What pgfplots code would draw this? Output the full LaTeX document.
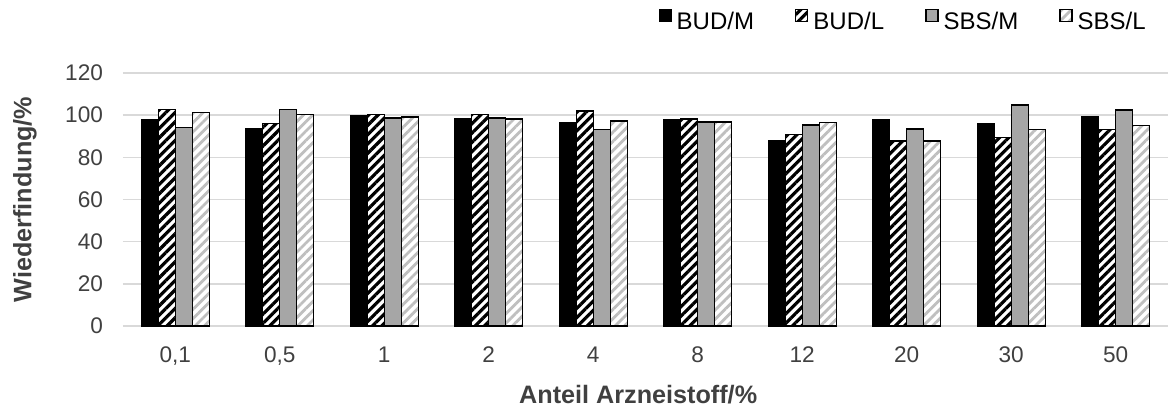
\documentclass[border=0pt]{standalone}
\usepackage{pgfplots}
\pgfplotsset{compat=1.18}
\usepackage{fontspec}
\setmainfont{Liberation Sans}
\usetikzlibrary{patterns.meta}

\definecolor{gridgray}{HTML}{D9D9D9}
\definecolor{barsgray}{HTML}{A6A6A6}
\definecolor{hatchgray}{HTML}{BFBFBF}
\definecolor{txt}{HTML}{404040}

\begin{document}
\begin{tikzpicture}
\useasboundingbox (-61.5pt,-41.5pt) rectangle (522.5pt,163pt);
\begin{axis}[
    scale only axis, width=522.5pt, height=126.5pt,
    ybar=0pt, bar width=8.5pt,
    xmin=-0.5, xmax=9.5, ymin=0, ymax=120,
    ytick={0,20,...,120},
    xtick={0,...,9},
    xticklabels={{0,1},{0,5},1,2,4,8,12,20,30,50},
    major tick length=0pt,
    ymajorgrids, grid style={gridgray, line width=0.8pt},
    axis lines*=left,
    y axis line style={draw=none},
    x axis line style={gridgray, line width=0.8pt},
    tick label style={font=\fontsize{11.3}{13}\selectfont, text=txt},
    /pgf/number format/assume math mode=true,
    yticklabel style={anchor=east, xshift=-6.5pt},
    xticklabel style={anchor=base, yshift=-18pt},
    xlabel={Anteil Arzneistoff/\%},
    ylabel={Wiederfindung/\%},
    xlabel style={at={(axis description cs:0.493,-0.2727)}, anchor=center,
        font=\fontsize{12.6}{14}\selectfont\bfseries, text=txt},
    ylabel style={at={(axis description cs:-0.0938,0.5)}, anchor=center,
        font=\fontsize{12.6}{14}\selectfont\bfseries, text=txt},
    legend columns=4,
    legend style={draw=none, fill=none, at={(axis description cs:0.98,1.205)}, anchor=east,
        font=\fontsize{12}{14}\selectfont,
        nodes={inner sep=0.5pt},
        /tikz/every odd column/.append style={column sep=2pt},
        /tikz/every even column/.append style={column sep=20pt},
        inner sep=0pt},
    legend image code/.code={\draw[#1] (0pt,0.1pt) rectangle (6pt,6.1pt);},
]
% BUD/M
\addplot[fill=black, draw=black, line width=0.6pt] coordinates {
    (0,98.0) (1,93.7) (2,99.8) (3,98.3) (4,96.4) (5,97.8) (6,88.0) (7,97.8) (8,96.1) (9,99.2)};
% BUD/L
\addplot[fill=white, draw=black, line width=0.7pt,
    postaction={pattern={Lines[angle=45, distance=3.3pt, line width=1.6pt]}, pattern color=black}] coordinates {
    (0,102.7) (1,96.1) (2,100.3) (3,100.3) (4,101.9) (5,98.1) (6,90.8) (7,87.8) (8,89.3) (9,93.2)};
% SBS/M
\addplot[fill=barsgray, draw=black, line width=0.7pt] coordinates {
    (0,94.2) (1,102.7) (2,98.6) (3,98.7) (4,93.2) (5,96.8) (6,95.4) (7,93.5) (8,104.9) (9,102.5)};
% SBS/L
\addplot[fill=white, draw=black, line width=0.7pt,
    postaction={pattern={Lines[angle=45, distance=3.3pt, line width=1.4pt]}, pattern color=hatchgray}] coordinates {
    (0,101.3) (1,100.2) (2,99.2) (3,98.1) (4,97.3) (5,96.8) (6,96.5) (7,87.8) (8,93.2) (9,95.1)};
\legend{BUD/M, BUD/L, SBS/M, SBS/L}
\end{axis}
\end{tikzpicture}
\end{document}
